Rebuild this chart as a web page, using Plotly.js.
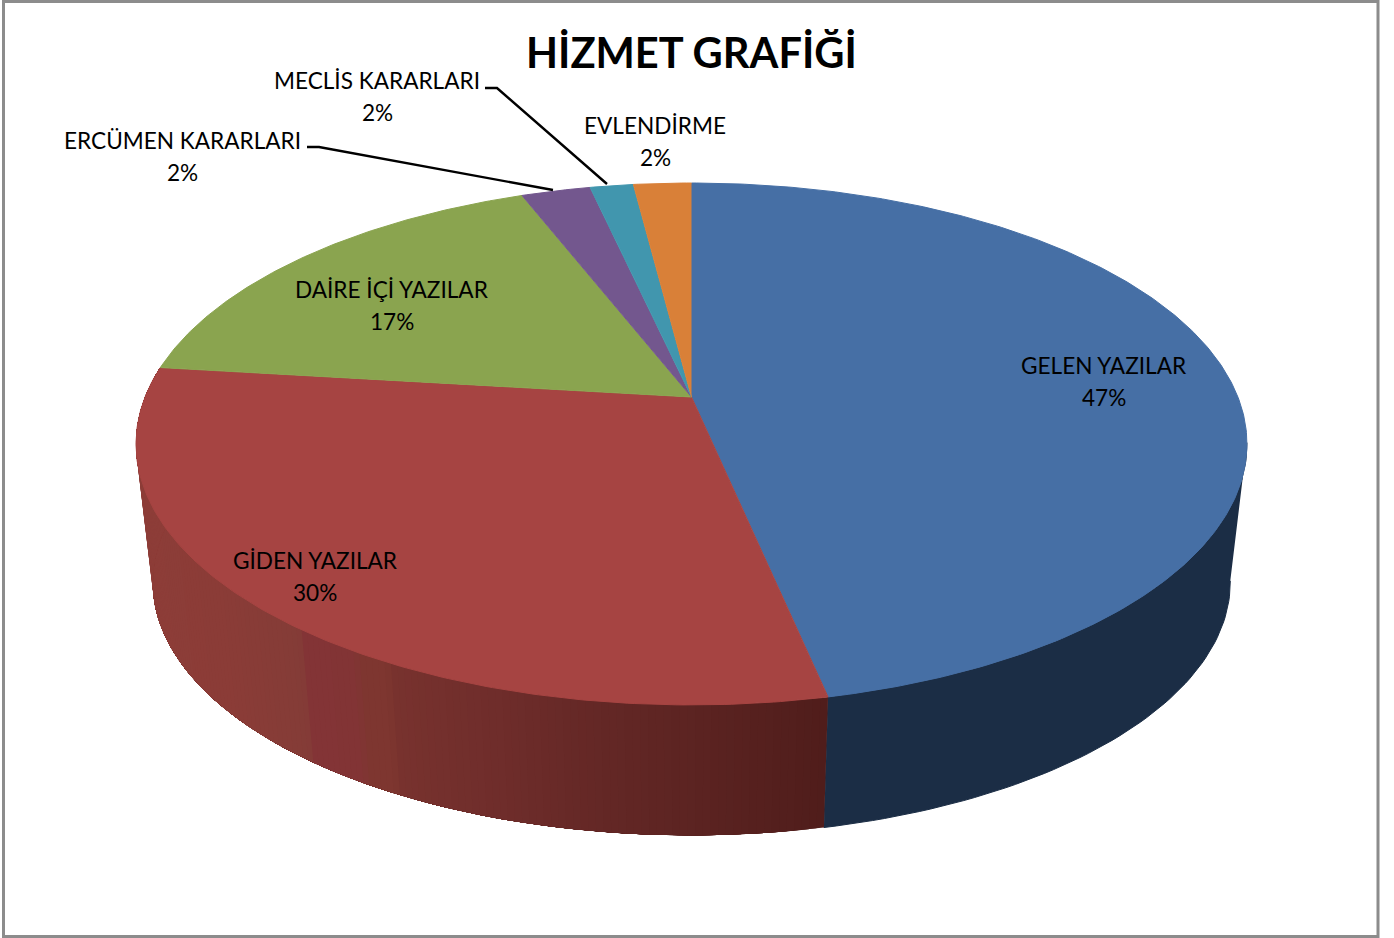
<!DOCTYPE html>
<html><head><meta charset="utf-8">
<script src="https://cdn.plot.ly/plotly-3.0.1.min.js"></script>
<style>html,body{margin:0;padding:0;background:#fff}</style></head>
<body><div id="chart" style="width:1394px;height:938px"></div>
<script>
const chartTitle = "HİZMET GRAFİĞİ";
const categories = ["GELEN YAZILAR","GİDEN YAZILAR","DAİRE İÇİ YAZILAR","ERCÜMEN KARARLARI","MECLİS KARARLARI","EVLENDİRME"];
const shares = [46.7, 30.2, 17.2, 2.4, 1.5, 2.0];
const topColors = ["#466FA5","#A64442","#8AA44F","#73578E","#4196AE","#D98038"];
const wallBlue = "#1B2D45";
const wallRedStops = [[150,"#8D3D38"],[222,"#8B3C37"],[304,"#843C37"],[309,"#833436"],[359,"#823435"],[364,"#7E3630"],[391,"#7E3630"],[396,"#78322E"],[497,"#6F2D2B"],[589,"#652826"],[703,"#5B2321"],[822,"#501D1B"]];
const labelAnchors = [[1104,381],[315,576],[392,305],[182,156],[377,96],[655,141]];
const leaderLines = {3:[[307,147],[319,147],[553,190]],4:[[485,88],[497,88],[607,184]]};

// Projection of the tilted disc onto the page scale
const cx=691.5, cy=397, a=546.4, b=252.5, k=0.18, vanishY=5050, wallScale=0.97;
const top_=(t)=>{const u=Math.sin(t),v=Math.cos(t),d=1+k*v;return [cx+a*u/d,cy-b*v/d];};
const bot_=(t)=>{const p=top_(t);return [cx+wallScale*(p[0]-cx),vanishY+wallScale*(p[1]-vanishY)];};
const rad=(pct)=>pct/100*2*Math.PI;
const hex=(c)=>[1,3,5].map(i=>parseInt(c.substr(i,2),16));
function mix(stops,x){
  if(x<=stops[0][0])return stops[0][1];
  for(let i=1;i<stops.length;i++){ if(x<=stops[i][0]){
    const g=(x-stops[i-1][0])/(stops[i][0]-stops[i-1][0]);
    const A=hex(stops[i-1][1]),B=hex(stops[i][1]);
    return "rgb("+A.map((c,j)=>Math.round(c+(B[j]-c)*g)).join(",")+")";}}
  return stops[stops.length-1][1];
}
function poly(pts,color,w){
  return {type:"scatter",mode:"lines",x:pts.map(p=>p[0]),y:pts.map(p=>p[1]),fill:"toself",fillcolor:color,
    line:{color:color,width:w===undefined?1:w},hoverinfo:"skip",showlegend:false};
}
function wall(t0,t1,color,n,w){
  const tp=[],bt=[];
  for(let i=0;i<=n;i++){const t=t0+(t1-t0)*i/n;tp.push(top_(t));bt.push(bot_(t));}
  return poly(tp.concat(bt.reverse()),color,w);
}
const traces=[];
const edges=[0];
shares.forEach(s=>edges.push(edges[edges.length-1]+s));
// side walls
const tangent=rad(27.8), blueEnd=rad(edges[1]), redEnd=rad(edges[2]);
traces.push(wall(tangent,blueEnd,wallBlue,60));
const strips=160;
for(let i=0;i<strips;i++){
  const t0=blueEnd+(redEnd-blueEnd)*i/strips, t1=redEnd;
  const t2=blueEnd+(redEnd-blueEnd)*(i+0.5)/strips;
  const x=(top_(t2)[0]+bot_(t2)[0])/2;
  // painted back to front: each band extends to the far end and the next one covers it
  traces.push(wall(t0,t1,mix(wallRedStops,x),Math.max(4,Math.round((strips-i)/3)),0));
}
// top face
shares.forEach((s,i)=>{
  const t0=rad(edges[i]),t1=rad(edges[i+1]),n=Math.max(12,Math.round(s*6));
  const pts=[[cx,cy]];
  for(let j=0;j<=n;j++)pts.push(top_(t0+(t1-t0)*j/n));
  traces.push(poly(pts,topColors[i]));
});
// leaders
Object.keys(leaderLines).forEach(i=>{
  const l=leaderLines[i];
  traces.push({type:"scatter",mode:"lines",x:l.map(p=>p[0]),y:l.map(p=>p[1]),line:{color:"#000",width:2.4},hoverinfo:"skip",showlegend:false});
});
const FONT="Lato, Carlito, sans-serif";
const labelLine=(x,y,text)=>({x:x,y:y,xref:"x",yref:"y",showarrow:false,xanchor:"center",yanchor:"middle",
  text:text,font:{family:FONT,size:22.6,color:"#000"}});
const annotations=[];
categories.forEach((c,i)=>{
  annotations.push(labelLine(labelAnchors[i][0],labelAnchors[i][1]-16,c));
  annotations.push(labelLine(labelAnchors[i][0],labelAnchors[i][1]+16,Math.round(shares[i])+"%"));
});
annotations.push({x:691,y:52,xref:"x",yref:"y",showarrow:false,xanchor:"center",yanchor:"middle",
  text:"<b>"+chartTitle+"</b>",font:{family:FONT,size:41.6,color:"#000"}});
const layout={
  width:1394,height:938,margin:{l:0,r:0,t:0,b:0},paper_bgcolor:"#fff",plot_bgcolor:"#fff",showlegend:false,
  xaxis:{range:[0,1394],visible:false,fixedrange:true},
  yaxis:{range:[938,0],visible:false,fixedrange:true},
  shapes:[{type:"rect",xref:"x",yref:"y",x0:3.5,y0:1.5,x1:1378,y1:936.5,line:{color:"#8C8C8C",width:3},layer:"below"}],
  annotations:annotations
};
Plotly.newPlot("chart",traces,layout,{displayModeBar:false,staticPlot:true});
</script></body></html>
